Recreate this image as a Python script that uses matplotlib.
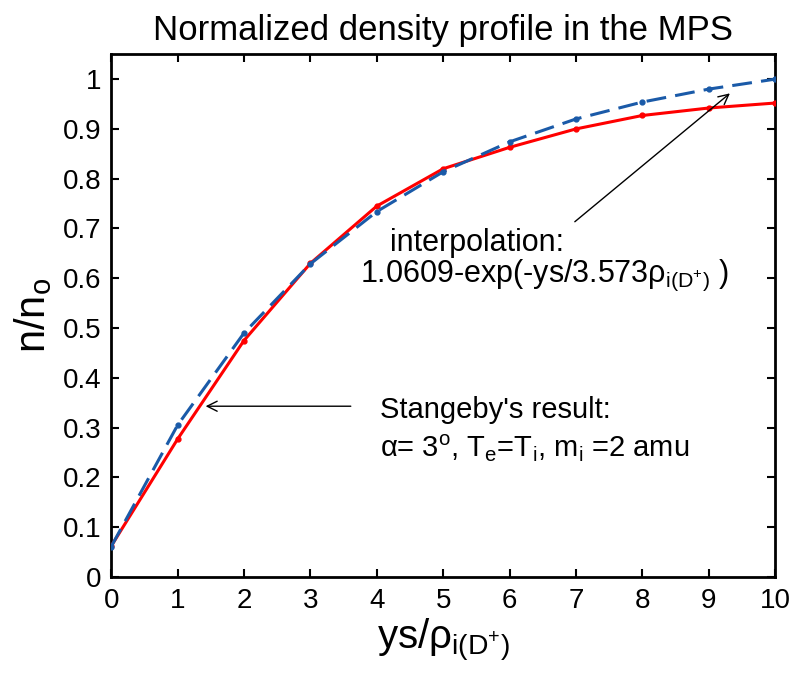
import numpy as np
import matplotlib
matplotlib.use('Agg')
import matplotlib.pyplot as plt

plt.rcParams['font.family'] = ['Liberation Sans', 'DejaVu Sans']
plt.rcParams['mathtext.fontset'] = 'custom'
plt.rcParams['mathtext.rm'] = 'Liberation Sans'
plt.rcParams['mathtext.it'] = 'Liberation Sans:italic'
plt.rcParams['mathtext.bf'] = 'Liberation Sans:bold'

# data
ys = [0, 1, 2, 3, 4, 5, 6, 7, 8, 9, 10]
stangeby = [0.062, 0.277, 0.475, 0.630, 0.745, 0.820, 0.863, 0.900, 0.927, 0.942, 0.952]
interp = [0.061, 0.305, 0.490, 0.629, 0.734, 0.814, 0.874, 0.920, 0.954, 0.980, 1.000]

xticks = list(range(0, 11))
yticks = [0, 0.1, 0.2, 0.3, 0.4, 0.5, 0.6, 0.7, 0.8, 0.9, 1.0]
yticklabels = ['0', '0.1', '0.2', '0.3', '0.4', '0.5', '0.6', '0.7', '0.8', '0.9', '1']

fig = plt.figure(figsize=(8, 6.78), dpi=100)
ax = fig.add_axes([0.139, 0.149, 0.83, 0.771])

ax.plot(ys, stangeby, '-', color='#ff0000', lw=2.2, marker='o', ms=3.5, zorder=3)
ax.plot(ys, interp, '--', color='#1a5aa8', lw=2.2, marker='o', ms=3.5,
        dashes=(6.5, 3), zorder=4)

ax.set_xlim(0, 10)
ax.set_ylim(0, 1.05)
ax.set_xticks(xticks)
ax.set_yticks(yticks)
ax.set_yticklabels(yticklabels)
ax.tick_params(direction='in', length=6, width=1.5, labelsize=20,
               top=True, right=True)
ax.tick_params(axis='x', pad=8)
ax.tick_params(axis='y', pad=7)
for s in ax.spines.values():
    s.set_linewidth(2)

ax.set_title('Normalized density profile in the MPS', fontsize=25, pad=10)
ax.set_xlabel(r'ys/ρ$_{\mathregular{i(D^{+})}}$', fontsize=29, labelpad=2)
ax.set_ylabel(r'n/n$_{\mathregular{o}}$', fontsize=30, labelpad=6)

ax.annotate('', xy=(9.35, 0.975), xytext=(6.95, 0.71),
            arrowprops=dict(arrowstyle='->', color='black', lw=1,
                            mutation_scale=18))
ax.text(4.2, 0.671, 'interpolation:', fontsize=22, va='center')
ax.text(3.75, 0.606, r'1.0609-exp(-ys/3.573ρ$_{\mathregular{i(D^{+})}}$ )',
        fontsize=22, va='center')

ax.annotate('', xy=(1.38, 0.343), xytext=(3.65, 0.343),
            arrowprops=dict(arrowstyle='->', color='black', lw=1,
                            mutation_scale=18))
ax.text(4.05, 0.336, "Stangeby's result:", fontsize=21, va='center')
ax.text(4.05, 0.258, r'α= 3$^{\mathregular{o}}$, T$_{\mathregular{e}}$=T$_{\mathregular{i}}$, m$_{\mathregular{i}}$ =2 amu',
        fontsize=21, va='center')

fig.savefig('out.png', dpi=100)
